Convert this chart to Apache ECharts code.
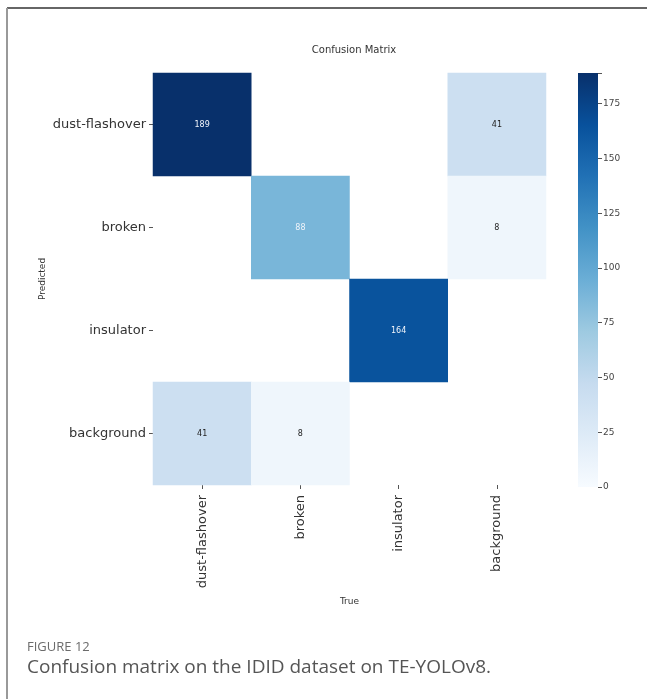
<!DOCTYPE html>
<html><head><meta charset="utf-8">
<script src="https://cdn.jsdelivr.net/npm/echarts@6/dist/echarts.min.js"></script>
<style>html,body{margin:0;padding:0;background:#fff}#c{width:647px;height:699px}</style>
</head><body><div id="c"></div>
<script>
const predictedLabels = ['dust-flashover', 'broken', 'insulator', 'background'];
const trueLabels = ['dust-flashover', 'broken', 'insulator', 'background'];
// rows = predicted, cols = true; 0 = empty cell
const rowDust = [189, 0, 0, 41];
const rowBroken = [0, 88, 0, 8];
const rowInsulator = [0, 0, 164, 0];
const rowBackground = [41, 8, 0, 0];
const colorbarTicks = [0, 25, 50, 75, 100, 125, 150, 175];
const maxValue = 189;

const rows = [rowDust, rowBroken, rowInsulator, rowBackground];
const cells = [];
rows.forEach((r, ri) => r.forEach((v, ci) => { if (v > 0) cells.push([ci, ri, v]); }));
const blues = ['#f7fbff','#deebf7','#c6dbef','#9ecae1','#6baed6','#4292c6','#2171b5','#08519c','#08306b'];

const chart = echarts.init(document.getElementById('c'));
const font = 'DejaVu Sans';
chart.setOption({
  animation: false,
  textStyle: { fontFamily: font },
  title: [
    { text: 'Confusion Matrix', left: 349, top: 40, textAlign: 'center',
      textStyle: { fontSize: 10, fontWeight: 'normal', color: '#333', fontFamily: font } },
    { text: 'FIGURE 12', left: 22, top: 636,
      textStyle: { fontSize: 13, fontWeight: 'normal', color: '#6b6b6b', fontFamily: 'Open Sans' } },
    { text: 'Confusion matrix on the IDID dataset on TE-YOLOv8.', left: 22, top: 653,
      textStyle: { fontSize: 19, fontWeight: 'normal', color: '#555', fontFamily: 'Open Sans' } }
  ],
  graphic: [
    { type: 'line', shape: { x1: 7, y1: 8, x2: 647, y2: 8 }, style: { stroke: '#333', lineWidth: 1.5 } },
    { type: 'line', shape: { x1: 7, y1: 8, x2: 7, y2: 699 }, style: { stroke: '#999', lineWidth: 2 } }
  ],
  grid: [
    { left: 153, top: 73, width: 393, height: 412 },
    { left: 578, top: 73, width: 20, height: 414 }
  ],
  xAxis: [
    { type: 'category', data: trueLabels, gridIndex: 0, position: 'bottom',
      name: 'True', nameLocation: 'middle', nameGap: 112, nameMoveOverlap: false,
      nameTextStyle: { fontSize: 9, color: '#333' },
      axisLine: { show: false }, splitLine: { show: false },
      axisTick: { show: true, alignWithLabel: true, length: 4, lineStyle: { color: '#555' } },
      axisLabel: { rotate: 90, fontSize: 13, color: '#333', margin: 10 } },
    { type: 'category', data: [''], gridIndex: 1, show: false }
  ],
  yAxis: [
    { type: 'category', data: predictedLabels, gridIndex: 0, inverse: true,
      name: 'Predicted', nameLocation: 'middle', nameGap: 106, nameRotate: 90, nameMoveOverlap: false,
      nameTextStyle: { fontSize: 9, color: '#333' },
      axisLine: { show: false }, splitLine: { show: false },
      axisTick: { show: true, alignWithLabel: true, length: 4, lineStyle: { color: '#555' } },
      axisLabel: { fontSize: 13, color: '#333', margin: 7 } },
    { type: 'value', gridIndex: 1, position: 'right', min: 0, max: maxValue, interval: 25,
      axisLine: { show: false }, splitLine: { show: false },
      axisTick: { show: true, length: 4, lineStyle: { color: '#555' } },
      axisLabel: { fontSize: 9, color: '#444', margin: 5,
        formatter: v => colorbarTicks.includes(v) ? String(v) : '' } }
  ],
  visualMap: { show: false, min: 0, max: maxValue, seriesIndex: 0, inRange: { color: blues } },
  series: [
    { type: 'heatmap', xAxisIndex: 0, yAxisIndex: 0,
      data: cells.map(c => ({ value: c,
        label: { color: c[2] > maxValue * 0.45 ? '#f0f4fa' : '#222' } })),
      label: { show: true, fontSize: 8, fontFamily: font,
        formatter: p => String(p.value[2]) },
      itemStyle: { borderWidth: 0 } },
    { type: 'bar', xAxisIndex: 1, yAxisIndex: 1, data: [maxValue], barWidth: '100%',
      silent: true,
      itemStyle: { color: new echarts.graphic.LinearGradient(0, 1, 0, 0,
        blues.map((c, i) => ({ offset: i / (blues.length - 1), color: c }))) } }
  ]
});
</script></body></html>
